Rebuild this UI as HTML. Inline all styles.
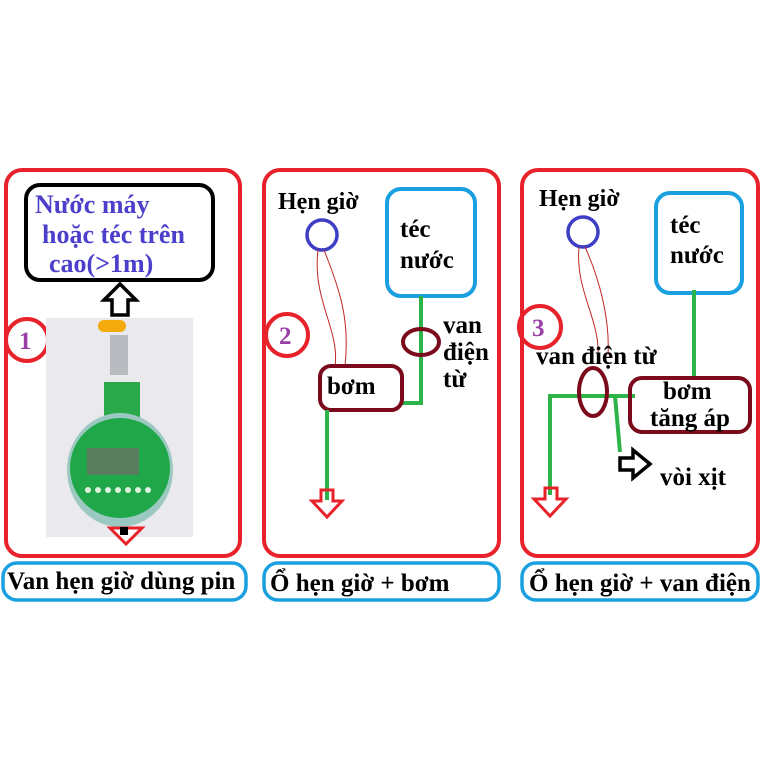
<!DOCTYPE html>
<html><head><meta charset="utf-8"><style>
body{margin:0;background:#fff}
text{font-family:"Liberation Serif",serif;font-weight:bold}
</style></head><body>
<svg width="772" height="772" viewBox="0 0 772 772" xmlns="http://www.w3.org/2000/svg">
<rect width="772" height="772" fill="#fff"/>
<!-- Panel 1 -->
<rect x="6" y="170" width="234" height="386" rx="16" fill="none" stroke="#e8222a" stroke-width="4"/>
<rect x="26" y="185" width="187" height="95" rx="14" fill="none" stroke="#000" stroke-width="4"/>
<text x="35" y="213" font-size="26" fill="#4b3fcb">Nước máy</text>
<text x="42" y="243" font-size="26" fill="#4b3fcb">hoặc téc trên</text>
<text x="49" y="272" font-size="26" fill="#4b3fcb">cao(&gt;1m)</text>
<polygon points="120,284 136,300 128,300 128,315 112,315 112,300 104,300" fill="#fff" stroke="#000" stroke-width="3.5"/>
<circle cx="27" cy="340" r="21" fill="none" stroke="#e8222a" stroke-width="4"/>
<text x="19" y="349" font-size="25" fill="#9a3fa5">1</text>
<rect x="46" y="318" width="147" height="219" fill="#e9e9ee"/>
<rect x="110" y="335" width="18" height="40" fill="#b8bcc0"/>
<rect x="98" y="320" width="28" height="12" rx="6" fill="#f4a90c"/>
<rect x="104" y="382" width="36" height="36" fill="#2aa84a"/>
<ellipse cx="120" cy="470" rx="53" ry="57" fill="#9bc8c0"/>
<circle cx="120" cy="468" r="50" fill="#1fa74a"/>
<rect x="87" y="448" width="52" height="27" fill="#5a7d60"/>
<g fill="#dff0e0"><circle cx="88" cy="490" r="3"/><circle cx="98" cy="490" r="3"/><circle cx="108" cy="490" r="3"/><circle cx="118" cy="490" r="3"/><circle cx="128" cy="490" r="3"/><circle cx="138" cy="490" r="3"/><circle cx="148" cy="490" r="3"/></g>
<polygon points="110,528 142,528 126,544" fill="#fff" stroke="#e8222a" stroke-width="3"/>
<rect x="120" y="527" width="8" height="8" fill="#000"/>
<rect x="3" y="563" width="243" height="37" rx="14" fill="none" stroke="#1aa0e0" stroke-width="3.5"/>
<text x="7" y="589" font-size="25" fill="#000">Van hẹn giờ dùng pin</text>
<!-- Panel 2 -->
<rect x="264" y="170" width="235" height="386" rx="16" fill="none" stroke="#e8222a" stroke-width="4"/>
<text x="278" y="209" font-size="24" fill="#000">Hẹn giờ</text>
<circle cx="322" cy="235" r="15" fill="none" stroke="#3e3ec4" stroke-width="3.5"/>
<path d="M318,250 C312,300 340,330 335,366" fill="none" stroke="#c0282a" stroke-width="1"/>
<path d="M324,250 C340,290 350,320 345,366" fill="none" stroke="#c0282a" stroke-width="1"/>
<rect x="387" y="189" width="88" height="107" rx="14" fill="none" stroke="#1aa0e0" stroke-width="4"/>
<text x="400" y="237" font-size="25" fill="#000">téc</text>
<text x="400" y="268" font-size="25" fill="#000">nước</text>
<polyline points="421,296 421,403 402,403" fill="none" stroke="#2db34a" stroke-width="4"/>
<ellipse cx="421" cy="342" rx="18" ry="13" fill="none" stroke="#7a0a1c" stroke-width="4"/>
<text x="443" y="333" font-size="25" fill="#000">van</text>
<text x="443" y="360" font-size="25" fill="#000">điện</text>
<text x="443" y="387" font-size="25" fill="#000">từ</text>
<rect x="320" y="366" width="82" height="44" rx="11" fill="none" stroke="#7a0a1c" stroke-width="4"/>
<text x="327" y="394" font-size="25" fill="#000">bơm</text>
<line x1="327" y1="410" x2="327" y2="500" stroke="#2db34a" stroke-width="4"/>
<polygon points="321,490 333,490 333,501 342,501 327,517 312,501 321,501" fill="none" stroke="#e8222a" stroke-width="3"/>
<circle cx="287" cy="335" r="21" fill="none" stroke="#e8222a" stroke-width="4"/>
<text x="279" y="344" font-size="25" fill="#9a3fa5">2</text>
<rect x="264" y="563" width="235" height="37" rx="14" fill="none" stroke="#1aa0e0" stroke-width="3.5"/>
<text x="270" y="591" font-size="25" fill="#000">Ổ hẹn giờ + bơm</text>
<!-- Panel 3 -->
<rect x="522" y="170" width="236" height="386" rx="16" fill="none" stroke="#e8222a" stroke-width="4"/>
<text x="539" y="206" font-size="24" fill="#000">Hẹn giờ</text>
<circle cx="583" cy="232" r="15" fill="none" stroke="#3e3ec4" stroke-width="3.5"/>
<path d="M579,247 C575,290 600,320 598,355" fill="none" stroke="#c0282a" stroke-width="1"/>
<path d="M585,247 C600,280 610,320 608,355" fill="none" stroke="#c0282a" stroke-width="1"/>
<rect x="656" y="193" width="86" height="100" rx="14" fill="none" stroke="#1aa0e0" stroke-width="4"/>
<text x="670" y="233" font-size="25" fill="#000">téc</text>
<text x="670" y="263" font-size="25" fill="#000">nước</text>
<line x1="694" y1="290" x2="694" y2="377" stroke="#2db34a" stroke-width="4"/>
<circle cx="540" cy="327" r="21" fill="none" stroke="#e8222a" stroke-width="4"/>
<text x="532" y="336" font-size="25" fill="#9a3fa5">3</text>
<text x="536" y="364" font-size="25" fill="#000">van điện từ</text>
<polyline points="635,396 550,396 550,495" fill="none" stroke="#2db34a" stroke-width="4"/>
<polyline points="615,396 620,452" fill="none" stroke="#2db34a" stroke-width="4"/>
<ellipse cx="593" cy="392" rx="14" ry="24" fill="none" stroke="#7a0a1c" stroke-width="4"/>
<rect x="630" y="378" width="120" height="54" rx="12" fill="none" stroke="#7a0a1c" stroke-width="4"/>
<text x="663" y="399" font-size="25" fill="#000">bơm</text>
<text x="650" y="426" font-size="25" fill="#000">tăng áp</text>
<polygon points="620,458 633,458 633,450 650,464 633,478 633,470 620,470" fill="#fff" stroke="#000" stroke-width="3.5"/>
<text x="660" y="485" font-size="25" fill="#000">vòi xịt</text>
<polygon points="545,488 557,488 557,499 566,499 550,516 534,499 545,499" fill="none" stroke="#e8222a" stroke-width="3"/>
<rect x="522" y="563" width="236" height="37" rx="14" fill="none" stroke="#1aa0e0" stroke-width="3.5"/>
<text x="529" y="591" font-size="25" fill="#000">Ổ hẹn giờ + van điện</text>
</svg>
</body></html>
